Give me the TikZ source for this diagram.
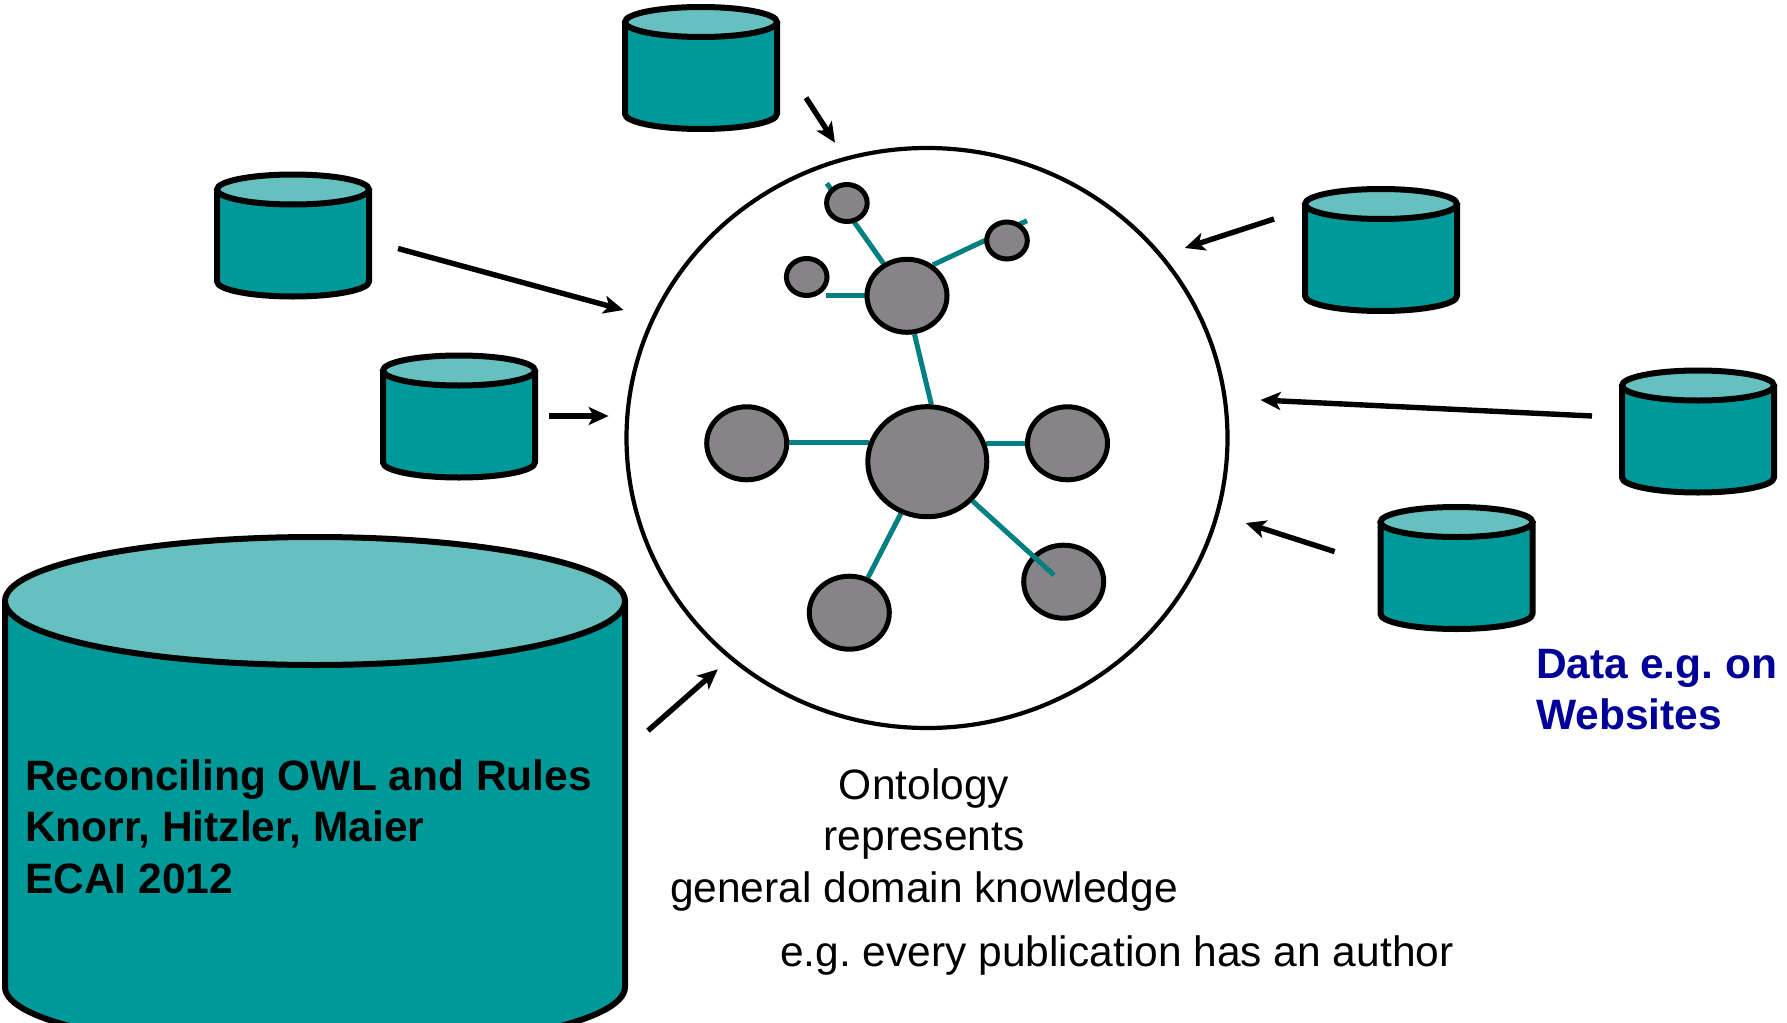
\documentclass[tikz,border=0pt]{standalone}
\usepackage{fontspec}
\setmainfont{Liberation Sans}
\usetikzlibrary{shapes.geometric,arrows.meta}
\definecolor{cylbody}{RGB}{0,153,153}
\definecolor{cyltop}{RGB}{102,192,192}
\definecolor{nodegrey}{RGB}{134,132,135}
\definecolor{linkteal}{RGB}{0,128,128}
\definecolor{datablue}{RGB}{0,0,153}
\pgfdeclarelayer{links}
\pgfdeclarelayer{disc}
\pgfsetlayers{disc,links,main}
\newcommand{\dbcyl}[7][6pt]{% name cx cy rx ry height
  \begin{scope}[shift={(#3,#4)}]
    \coordinate (#2) at (0,0);
    \draw[line width=#1,fill=cylbody,line join=round] (-#5,0) -- (-#5,#7) arc[start angle=180,end angle=0,x radius=#5,y radius=#6] -- (#5,0);
    \draw[line width=#1,fill=cyltop] (0,0) ellipse[x radius=#5,y radius=#6];
  \end{scope}}
\tikzset{
  concept/.style={ellipse,draw=black,line width=5pt,fill=nodegrey,inner sep=0pt},
  bignode/.style={concept,minimum width=119pt,minimum height=110pt},
  midnode/.style={concept,minimum width=80pt,minimum height=73pt},
  smallnode/.style={concept,minimum width=40.6pt,minimum height=37pt},
  link/.style={draw=linkteal,line width=5pt},
  feed/.style={draw=black,line width=5.4pt,-{Stealth[length=20pt,width=18pt,inset=5pt]}},
  label/.style={font=\fontsize{42.5}{51.5}\selectfont,inner sep=0pt},
  boldlabel/.style={font=\fontsize{42.5}{51.5}\selectfont\bfseries,inner sep=0pt}
}
\begin{document}
\frenchspacing
\begin{tikzpicture}[x=1pt,y=-1pt]
\useasboundingbox (0,0) rectangle (1787,1022);
\clip (0,0) rectangle (1787,1022);

% ontology circle
\begin{pgfonlayer}{disc}
\node[ellipse,draw=black,line width=4.2pt,fill=white,inner sep=0pt,minimum width=601pt,minimum height=580pt] (onto) at (927,438) {};
\end{pgfonlayer}

% big cylinder
\dbcyl{big}{315}{601}{310}{64}{386}
\node[boldlabel,align=left,anchor=north west] (bigtext) at (25,759) {Reconciling OWL and Rules\\Knorr, Hitzler, Maier\\ECAI 2012};

% small cylinders
\dbcyl{db1}{701}{22}{76}{15}{92}
\dbcyl{db2}{293}{189.5}{76}{15}{92}
\dbcyl{db3}{459}{370.5}{76}{15}{92}
\dbcyl{db4}{1381}{204}{76}{15}{92}
\dbcyl{db5}{1698}{385.5}{76}{15}{92}
\dbcyl{db6}{1456.5}{522}{76}{15}{92}

% concept graph
\node[bignode] (hub) at (927.3,461.7) {};
\node[midnode] (west) at (746.7,443.3) {};
\node[midnode] (east) at (1067.5,443.3) {};
\node[midnode] (sw) at (849.3,612.7) {};
\node[midnode] (se) at (1063.7,581.7) {};
\node[midnode] (upper) at (907,295.8) {};
\node[smallnode] (na) at (846.9,203) {};
\node[smallnode] (nb) at (1007,240.5) {};
\node[smallnode] (nc) at (806.7,277) {};

\coordinate (stuba) at (826.8,183.3);
\coordinate (stubb) at (1027,220.7);
\coordinate (stubc) at (826.3,295.8);
\coordinate (stubse) at (1054,575);

\begin{pgfonlayer}{links}
\path[link] (hub.162.2) -- (west.east |- hub.162.2);
\path[link] (hub.17.8) -- (east.west |- hub.17.8);
\path[link] (hub.243.5) -- (sw.62.2);
\path[link] (hub.86) -- (upper.-79);
\path[link] (upper.126) -- (stuba);
\path[link] (upper.50) -- (stubb);
\path[link] (upper.180) -- (stubc);
\end{pgfonlayer}
\path[link] (hub.-41.4) -- (stubse);

% feeding arrows
\coordinate (a1s) at (806,97.7);   \coordinate (a1t) at (835,142.7);
\coordinate (a2s) at (398,248.5);  \coordinate (a2t) at (623.5,310);
\coordinate (a3s) at (549,416);    \coordinate (a3t) at (608.6,416);
\coordinate (a4s) at (1274,219);   \coordinate (a4t) at (1184.8,248);
\coordinate (a5s) at (1592,416);   \coordinate (a5t) at (1260.5,400);
\coordinate (a6s) at (1334.6,551.6); \coordinate (a6t) at (1245.7,523);
\coordinate (a7s) at (648,730.7);  \coordinate (a7t) at (717.8,669.3);
\path[feed] (a1s) -- (a1t);
\path[feed] (a2s) -- (a2t);
\path[feed] (a3s) -- (a3t);
\path[feed] (a4s) -- (a4t);
\path[feed] (a5s) -- (a5t);
\path[feed] (a6s) -- (a6t);
\path[feed] (a7s) -- (a7t);

% labels
\node[label,align=center,anchor=north] (ontotext) at (924,768) {Ontology\\represents\\general domain knowledge};
\node[label,anchor=base west] (example) at (780,966.5) {e.g. every publication has an author};
\node[boldlabel,text=datablue,align=left,anchor=north west] (datatext) at (1536,649) {Data e.g. on\\Websites};
\end{tikzpicture}
\end{document}
